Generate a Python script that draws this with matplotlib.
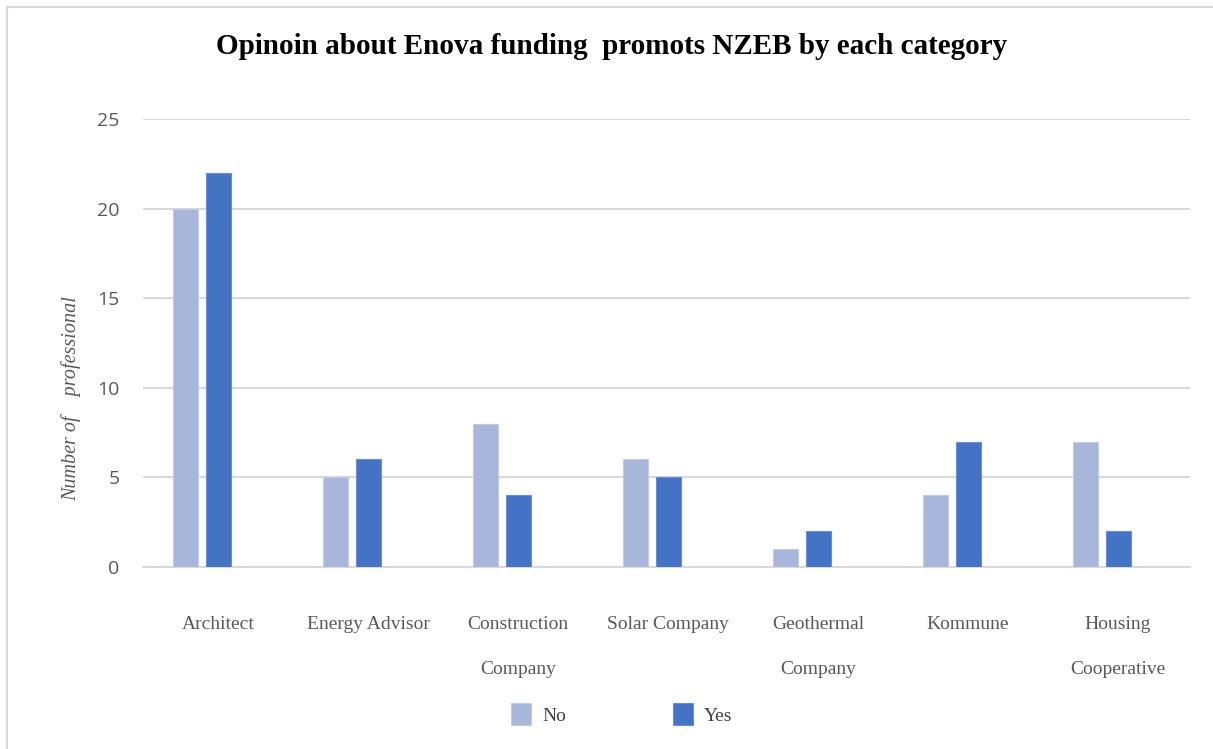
import numpy as np
import matplotlib.pyplot as plt
from matplotlib.lines import Line2D

categories = ['Architect', 'Energy Advisor', 'Construction\nCompany', 'Solar Company',
              'Geothermal\nCompany', 'Kommune', 'Housing\nCooperative']
no_vals = [20, 5, 8, 6, 1, 4, 7]
yes_vals = [22, 6, 4, 5, 2, 7, 2]
yticks = [0, 5, 10, 15, 20, 25]

W, H = 1213, 749
fig = plt.figure(figsize=(W / 100, H / 100), dpi=100)
ax = fig.add_axes([143 / W, 1 - 567 / H, (1190 - 143) / W, (567 - 119) / H])

x = np.arange(len(categories))
bw = 25 / 150
ax.bar(x - 33 / 150, no_vals, bw, color='#A9B6DB', edgecolor='#C3CCE6', linewidth=0.8, label='No', zorder=3)
ax.bar(x, yes_vals, bw, color='#4472C4', edgecolor='#6A8ED3', linewidth=0.8, label='Yes', zorder=3)

ax.set_xlim(-0.5, 6.48)
ax.set_ylim(0, 25)
ax.set_yticks(yticks)
ax.yaxis.grid(True, color='#D9D9D9', linewidth=1.5, zorder=0)
ax.set_axisbelow(True)
for s in ['top', 'right', 'left']:
    ax.spines[s].set_visible(False)
ax.spines['bottom'].set_color('#D9D9D9')
ax.spines['bottom'].set_linewidth(1.5)
ax.tick_params(axis='both', length=0)
ax.tick_params(axis='y', pad=17, labelsize=14, labelcolor='#595959')
for lbl in ax.get_yticklabels():
    lbl.set_family('Open Sans')

ax.set_xticks(x)
ax.set_xticklabels(categories, fontsize=14, color='#595959', family='Liberation Serif',
                   linespacing=3.2, va='top')
ax.tick_params(axis='x', pad=35)

ax.set_ylabel('Number of    professional', fontsize=14.5, color='#595959', family='Liberation Serif',
              style='italic')
ax.yaxis.set_label_coords(-62 / (1190 - 143) - 0.0, 0.377)

fig.text(612 / W, 1 - 46 / H, 'Opinoin about Enova funding  promots NZEB by each category',
         ha='center', va='center', fontsize=21, fontweight='bold', family='Liberation Serif')

leg = fig.legend(loc='center', bbox_to_anchor=(622 / W, 1 - 714 / H), ncol=2, frameon=False,
                 fontsize=14, handlelength=1.0, handleheight=1.3, columnspacing=5.5, handletextpad=0.6)
for t in leg.get_texts():
    t.set_color('#404040')
    t.set_family('Liberation Serif')

fig.add_artist(Line2D([6.5 / W, 6.5 / W], [0, 1 - 7 / H], color='#D9D9D9', linewidth=1.5))
fig.add_artist(Line2D([6.5 / W, 1], [1 - 7 / H, 1 - 7 / H], color='#D9D9D9', linewidth=1.5))

fig.savefig('out.png', dpi=100, facecolor='white')
